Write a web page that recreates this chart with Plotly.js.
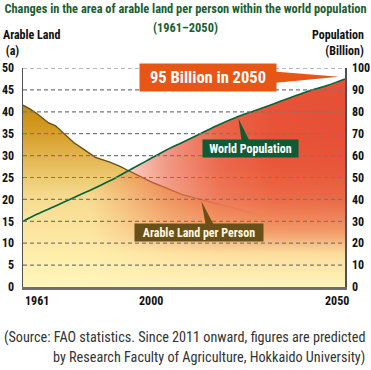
<!DOCTYPE html>
<html>
<head>
<meta charset="utf-8">
<script src="https://cdn.plot.ly/plotly-3.0.1.min.js"></script>
<style>html,body{margin:0;padding:0;background:#fff;}#chart{width:371px;height:370px;}</style>
</head>
<body>
<div id="chart"></div>
<script>
// ---- data ----
const arableYears = [1961,1963,1965,1968,1970,1973,1975,1978,1981,1985,1988,1990,1994,1997,2000,2005,2010,2015,2020,2025,2030,2035,2040,2045,2050];
const arableLand = [41.5,40.6,39.5,37.5,36.8,34.4,33.0,31.3,29.6,28.5,27.5,26.6,25.0,23.8,22.8,21.1,20.0,18.9,17.9,16.6,15.8,14.8,13.8,12.9,12.0];
const popYears = [1961,1965,1970,1975,1980,1985,1990,1995,2000,2005,2010,2015,2020,2025,2030,2035,2040,2045,2050];
const population = [30,33.3,37,40.8,44.5,48.5,53,57.5,62,66,70,74,77.5,80.5,83.5,86.5,89.5,92,95];
const leftTicks = [0,5,10,15,20,25,30,35,40,45,50];
const rightTicks = [0,10,20,30,40,50,60,70,80,90,100];
const xTickVals = [1961,2000,2050];
const xTickText = ['1961','2000','2050'];

const F = '"Roboto Condensed", Roboto, sans-serif';

const traces = [
  {x: arableYears, y: arableLand, yaxis:'y', type:'scatter', mode:'lines', fill:'tozeroy',
   line:{width:0, color:'rgba(0,0,0,0)'},
   fillgradient:{type:'vertical', start:0, stop:42,
     colorscale:[[0,'rgb(255,244,186)'],[0.3,'rgb(253,236,168)'],[0.5,'rgb(245,218,140)'],[0.7,'rgb(228,182,82)'],[0.85,'rgb(213,156,38)'],[1,'rgb(198,138,10)']]},
   hoverinfo:'skip', showlegend:false},
  {x: popYears, y: population, yaxis:'y2', type:'scatter', mode:'lines', fill:'tozeroy',
   line:{width:0, color:'rgba(0,0,0,0)'},
   fillgradient:{type:'horizontal', start:1961, stop:2050,
     colorscale:[[0,'rgba(233,84,55,0)'],[0.21,'rgba(233,84,55,0)'],[0.33,'rgba(233,84,55,0.3)'],[0.45,'rgba(233,84,55,0.62)'],[0.61,'rgba(233,84,55,0.9)'],[0.78,'rgba(232,82,54,1)'],[1,'rgba(230,80,54,1)']]},
   hoverinfo:'skip', showlegend:false},
  {x: popYears, y: population, yaxis:'y2', type:'scatter', mode:'lines', fill:'tozeroy',
   line:{width:0, color:'rgba(0,0,0,0)'},
   fillgradient:{type:'vertical', start:0, stop:70,
     colorscale:[[0,'rgba(255,244,186,1)'],[0.214,'rgba(254,238,170,0.9)'],[0.371,'rgba(252,222,150,0.5)'],[0.571,'rgba(250,210,140,0.2)'],[0.786,'rgba(250,210,140,0.04)'],[1,'rgba(250,210,140,0)']]},
   hoverinfo:'skip', showlegend:false},
  {x: arableYears, y: arableLand, yaxis:'y', type:'scatter', mode:'lines',
   line:{width:1.4, color:'rgb(105,80,20)'}, hoverinfo:'skip', showlegend:false},
  {x: popYears, y: population, yaxis:'y2', type:'scatter', mode:'lines', line:{width:1.6, color:'rgb(0,100,60)', shape:'spline'},
   hoverinfo:'skip', showlegend:false}
];

const shapes = leftTicks.filter(v => v > 0).map(v => ({
  type:'line', xref:'paper', x0:0, x1:1, yref:'y', y0:v, y1:v, layer:'above',
  line:{color:'rgb(120,120,120)', width:1.2, dash:'4px,3px'}
}));
// callout pointers
shapes.push({type:'path', xref:'paper', yref:'paper', layer:'above', line:{width:0},
  fillcolor:'rgb(232,86,22)', path:'M0.77,0.985 L0.981,0.96 L0.77,0.93 Z'});
shapes.push({type:'path', xref:'paper', yref:'paper', layer:'above', line:{width:0},
  fillcolor:'rgb(15,90,55)', path:'M0.68,0.66 L0.669,0.768 L0.706,0.66 Z'});
shapes.push({type:'path', xref:'paper', yref:'paper', layer:'above', line:{width:0},
  fillcolor:'rgb(105,80,25)', path:'M0.568,0.28 L0.554,0.391 L0.594,0.28 Z'});

const annotations = [
  {text:'<b>(1961–2050)</b>', xref:'paper', yref:'paper', x:0.504, y:1.187, xanchor:'center', yanchor:'middle', showarrow:false, font:{family:F, size:12.4, color:'rgb(25,95,50)'}},
  {text:'<b>Arable Land</b><br><b> (a)</b>', xref:'paper', yref:'paper', x:-0.068, y:1.116, xanchor:'left', yanchor:'middle', align:'left', showarrow:false, font:{family:F, size:12, color:'#111'}},
  {text:'<b>Population</b><br><b>(Billion)</b>', xref:'paper', yref:'paper', x:1.065, y:1.116, xanchor:'right', yanchor:'middle', align:'right', showarrow:false, font:{family:F, size:12, color:'#111'}},
  {text:'<b>95 Billion in 2050</b>', xref:'paper', yref:'paper', x:0.573, y:0.957, xanchor:'center', yanchor:'middle', showarrow:false, bgcolor:'rgb(232,86,22)', width:134, height:25, font:{family:F, size:16.5, color:'#fff'}},
  {text:'<b>World Population</b>', xref:'paper', yref:'paper', x:0.707, y:0.634, xanchor:'center', yanchor:'middle', showarrow:false, bgcolor:'rgb(15,90,55)', width:93, height:15, font:{family:F, size:12, color:'#fff'}},
  {text:'<b>Arable Land per Person</b>', xref:'paper', yref:'paper', x:0.548, y:0.248, xanchor:'center', yanchor:'middle', showarrow:false, bgcolor:'rgb(105,80,25)', width:126, height:15, font:{family:F, size:12, color:'rgb(255,248,225)'}},
  {text:'(Source: FAO statistics. Since 2011 onward, figures are predicted', xref:'paper', yref:'paper', x:-0.064, y:-0.23, xanchor:'left', yanchor:'middle', showarrow:false, font:{family:F, size:14.2, color:'#333'}},
  {text:'by Research Faculty of Agriculture, Hokkaido University)', xref:'paper', yref:'paper', x:1.068, y:-0.32, xanchor:'right', yanchor:'middle', showarrow:false, font:{family:F, size:14.2, color:'#333'}}
];
xTickVals.forEach((v, i) => {
  const anchor = i === 0 ? 'left' : (i === xTickVals.length - 1 ? 'right' : 'center');
  annotations.push({text:'<b>' + xTickText[i] + '</b>', xref:'x', yref:'paper', x:v, y:-0.065, xanchor:anchor, yanchor:'middle', showarrow:false,
    xshift: i === xTickVals.length - 1 ? 6 : (i === 0 ? 0 : -13), font:{family:F, size:12, color:'#111'}});
});

const layout = {
  width:371, height:370,
  margin:{l:23, r:26, t:68, b:83, pad:0},
  paper_bgcolor:'#fff', plot_bgcolor:'#fff',
  title:{text:'<b>Changes in the area of arable land per person within the world population</b>',
    xref:'container', x:0.5, xanchor:'center', yref:'container', y:0.9757, yanchor:'middle',
    font:{family:F, size:12.4, color:'rgb(25,95,50)'}},
  xaxis:{range:[1961,2050], showgrid:false, zeroline:false, showticklabels:false, ticks:'',
    showline:true, linecolor:'rgb(110,110,110)', linewidth:2.5},
  yaxis:{range:[0,50], tickvals:leftTicks, ticktext:leftTicks.map(v => '<b>' + v + '</b>'), showgrid:false, zeroline:false,
    showline:true, linecolor:'rgb(80,80,80)', linewidth:1.5, ticks:'', ticklabelstandoff:5,
    tickfont:{family:F, size:12, color:'#111'}, layer:'above traces'},
  yaxis2:{range:[0,100], tickvals:rightTicks, ticktext:rightTicks.map(v => '<b>' + v + '</b>'), overlaying:'y', side:'right',
    showgrid:false, zeroline:false, showline:true, linecolor:'rgb(80,80,80)', linewidth:1.5, ticks:'', ticklabelstandoff:3,
    tickfont:{family:F, size:12, color:'#111'}, layer:'above traces'},
  shapes: shapes,
  annotations: annotations,
  showlegend:false
};

Plotly.newPlot('chart', traces, layout, {displayModeBar:false, staticPlot:true});
</script>
</body>
</html>
